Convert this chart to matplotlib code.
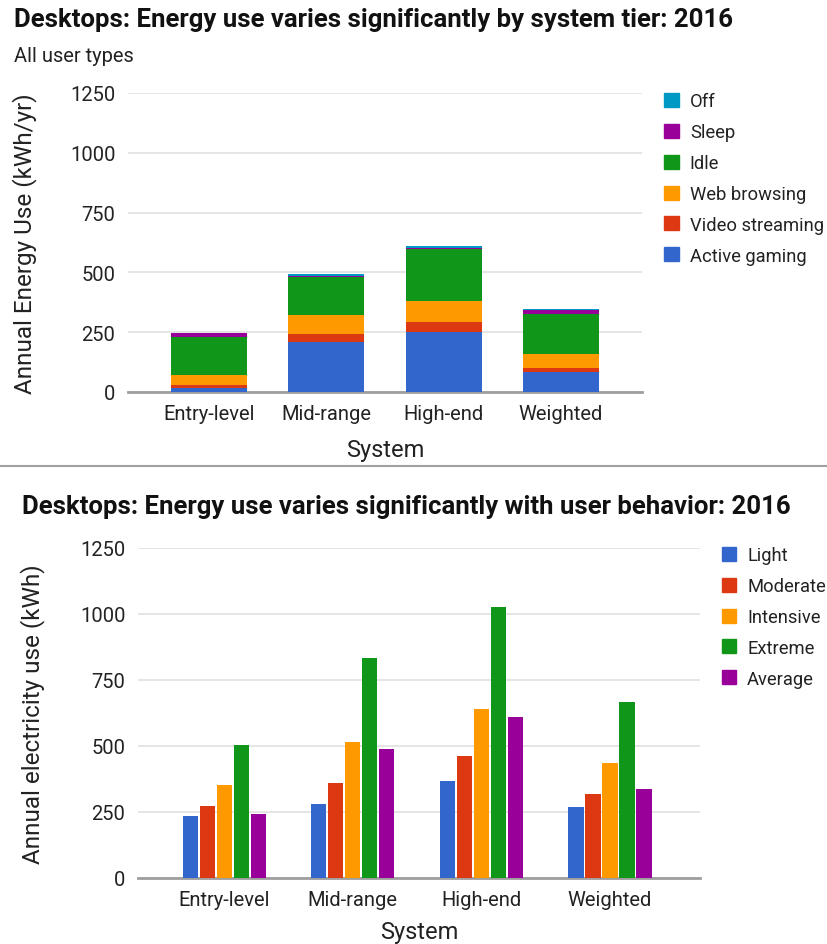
import numpy as np
import matplotlib
matplotlib.use("Agg")
import matplotlib.pyplot as plt
from matplotlib.lines import Line2D
from matplotlib.patches import Patch

plt.rcParams["font.family"] = ["Roboto", "DejaVu Sans"]

systems = ["Entry-level", "Mid-range", "High-end", "Weighted"]

# top chart: stacked modes (kWh/yr), bottom to top
active_gaming = [18, 211, 250, 83]
video_streaming = [10, 30, 43, 18]
web_browsing = [45, 79, 87, 58]
idle = [159, 159, 217, 169]
sleep = [14, 8, 7, 14]
off = [2, 7, 8, 4]

# bottom chart: user behaviour (kWh)
light = [233, 282, 369, 268]
moderate = [271, 360, 461, 320]
intensive = [353, 514, 640, 436]
extreme = [504, 835, 1025, 667]
average = [243, 489, 611, 339]

BLUE, RED, ORANGE, GREEN, PURPLE, CYAN = "#3366cc", "#dc3912", "#ff9900", "#109618", "#990099", "#0099c6"
TXT = "#222222"
GRID = "#e3e3e3"
BASE = "#9e9e9e"

fig = plt.figure(figsize=(8.28, 9.45), dpi=100)


def style_axes(ax):
    for s in ["top", "right", "left"]:
        ax.spines[s].set_visible(False)
    ax.spines["bottom"].set_color(BASE)
    ax.spines["bottom"].set_linewidth(2)
    ax.set_ylim(0, 1250)
    ax.set_yticks([0, 250, 500, 750, 1000, 1250])
    ax.yaxis.grid(True, color=GRID, linewidth=1.3)
    ax.set_axisbelow(True)
    ax.tick_params(length=0, labelsize=14.5, colors=TXT, pad=9)


# ---- top chart: stacked bars
ax1 = fig.add_axes([128 / 828, 1 - 393 / 945, 514 / 828, 299 / 945])
style_axes(ax1)
x = np.arange(len(systems))
layers = [
    ("Active gaming", active_gaming, BLUE),
    ("Video streaming", video_streaming, RED),
    ("Web browsing", web_browsing, ORANGE),
    ("Idle", idle, GREEN),
    ("Sleep", sleep, PURPLE),
    ("Off", off, CYAN),
]
bottom = np.zeros(len(systems))
for name, vals, col in layers:
    ax1.bar(x, vals, 0.65, bottom=bottom, color=col, label=name, zorder=3)
    bottom += np.array(vals)
ax1.set_xlim(-0.69, 3.69)
ax1.set_xticks(x)
ax1.set_xticklabels(systems)
ax1.set_xlabel("System", fontsize=17, color=TXT)
ax1.xaxis.set_label_coords(0.5, -(439 - 393) / 299)
ax1.set_ylabel("Annual Energy Use (kWh/yr)", fontsize=17.5, color=TXT)
ax1.yaxis.set_label_coords(-(128 - 37) / 514, 0.5)
h1 = [Patch(color=c, label=n) for n, v, c in layers[::-1]]
ax1.legend(handles=h1, loc="upper left", bbox_to_anchor=(1.011, 1.057), frameon=False,
           fontsize=13.2, handlelength=0.8, handleheight=0.8, handletextpad=0.6,
           labelspacing=0.7, labelcolor=TXT)

fig.text(14 / 828, 1 - 20 / 945, "Desktops: Energy use varies significantly by system tier: 2016",
         fontsize=18.5, fontweight="bold", color="#111111", va="center", ha="left")
fig.text(14 / 828, 1 - 57 / 945, "All user types", fontsize=14.5, color=TXT, va="center", ha="left")

# separator
fig.add_artist(Line2D([0, 1], [1 - 467 / 945] * 2, color="#a0a0a0", linewidth=1.5))

# ---- bottom chart: grouped bars
ax2 = fig.add_axes([138 / 828, 1 - 879 / 945, 562 / 828, 330 / 945])
style_axes(ax2)
groups = [
    ("Light", light, BLUE),
    ("Moderate", moderate, RED),
    ("Intensive", intensive, ORANGE),
    ("Extreme", extreme, GREEN),
    ("Average", average, PURPLE),
]
slot = 0.132
for i, (name, vals, col) in enumerate(groups):
    ax2.bar(x + (i - 2) * slot, vals, 0.118, color=col, label=name, zorder=3)
ax2.set_xlim(-0.67, 3.7)
ax2.set_xticks(x)
ax2.set_xticklabels(systems)
ax2.set_xlabel("System", fontsize=17, color=TXT)
ax2.xaxis.set_label_coords(0.5, -(921 - 879) / 330)
ax2.set_ylabel("Annual electricity use (kWh)", fontsize=17.5, color=TXT)
ax2.yaxis.set_label_coords(-(138 - 45) / 562, 0.5)
h2 = [Patch(color=c, label=n) for n, v, c in groups]
ax2.legend(handles=h2, loc="upper left", bbox_to_anchor=(1.009, 1.055), frameon=False,
           fontsize=13.2, handlelength=0.8, handleheight=0.8, handletextpad=0.6,
           labelspacing=0.7, labelcolor=TXT)

fig.text(22 / 828, 1 - 507 / 945, "Desktops: Energy use varies significantly with user behavior: 2016",
         fontsize=18.5, fontweight="bold", color="#111111", va="center", ha="left")

fig.savefig("out.png", dpi=100)
